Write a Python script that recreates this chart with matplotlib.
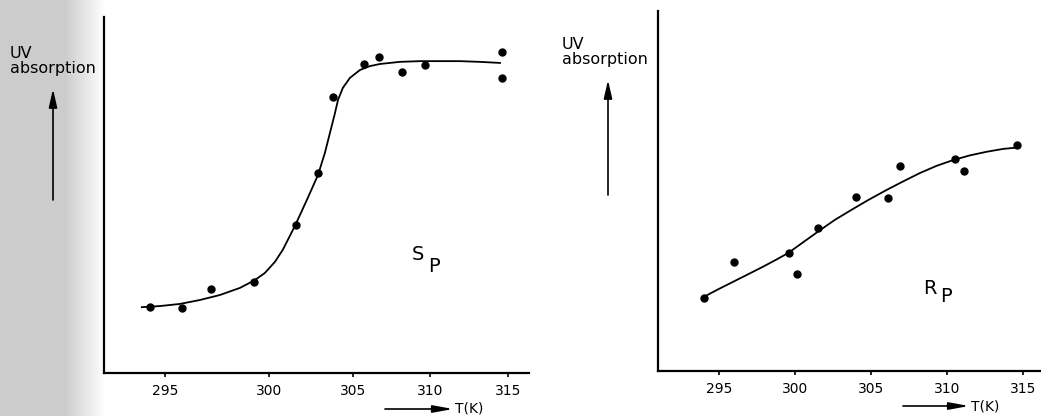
"""
UV absorption vs temperature for S_P and R_P (two panels, scanned-figure look)
"""

import numpy as np
import matplotlib.pyplot as plt

# S_P measured points (T in K, absorption in arbitrary units 0-100)
sp_temp = [294.3, 295.8, 297.2, 299.3, 301.6, 302.9, 303.8, 305.7, 306.7, 308.2, 309.7, 314.6, 314.6]
sp_abs = [18.5, 18.3, 23.6, 25.6, 41.6, 56.2, 77.5, 86.8, 88.8, 84.6, 86.5, 90.2, 82.9]

# S_P drawn curve
sp_fit_temp = [293.89, 294.76, 295.72, 296.68, 297.64, 298.61, 299.33, 299.81, 300.36,
               300.83, 301.55, 302.26, 302.92, 303.33, 303.63, 303.93, 304.11, 304.40,
               304.82, 305.45, 306.10, 306.75, 308.05, 309.35, 310.19, 311.92, 313.20, 314.49]
sp_fit_abs = [18.5, 18.8, 19.4, 20.5, 21.9, 23.9, 26.1, 28.1, 31.2,
              34.6, 41.3, 48.6, 55.6, 61.8, 67.4, 73.0, 76.7, 80.1,
              82.9, 85.1, 86.2, 86.8, 87.4, 87.6, 87.6, 87.6, 87.4, 87.1]

# R_P measured points
rp_temp = [294.0, 296.0, 299.6, 300.1, 301.5, 304.0, 306.1, 306.9, 310.5, 311.1, 314.6]
rp_abs = [20.2, 30.2, 32.8, 27.0, 39.6, 48.3, 48.1, 57.0, 58.9, 55.6, 62.8]

# R_P drawn curve
rp_fit_temp = [294.01, 294.95, 295.94, 296.93, 297.91, 298.80, 299.56, 300.55, 301.64,
               302.63, 303.73, 304.82, 306.03, 307.13, 308.22, 309.32, 310.41, 311.51,
               312.61, 313.70, 314.69]
rp_fit_abs = [20.6, 22.7, 24.8, 26.9, 29.0, 31.0, 32.8, 35.8, 39.1,
              42.0, 44.8, 47.5, 50.3, 52.7, 55.0, 57.0, 58.6, 59.9,
              60.9, 61.7, 62.1]

tick_temps = [295, 300, 305, 310, 315]

W, H = 1041, 416


def fx(x):
    return x / W


def fy(y):
    return 1 - y / H


# the left panel's temperature axis is drawn unevenly in the original
warp_temp = [295, 300, 305, 310, 315]
warp_pos = [0.1435, 0.388, 0.586, 0.767, 0.9506]


def piecewise(v, xp, fp):
    v = np.asarray(v, float)
    flat = np.atleast_1d(v).ravel()
    out = np.interp(flat, xp, fp)
    s0 = (fp[1] - fp[0]) / (xp[1] - xp[0])
    s1 = (fp[-1] - fp[-2]) / (xp[-1] - xp[-2])
    out = np.where(flat < xp[0], fp[0] + (flat - xp[0]) * s0, out)
    out = np.where(flat > xp[-1], fp[-1] + (flat - xp[-1]) * s1, out)
    return out.reshape(v.shape)


def fwd(t):
    return piecewise(t, warp_temp, warp_pos)


def inv(p):
    return piecewise(p, warp_pos, warp_temp)


plt.rcParams['font.family'] = ['DejaVu Sans']

fig = plt.figure(figsize=(W / 100, H / 100), dpi=100)

# grey scanner strip on the far left
bg = fig.add_axes([0, 0, 106 / W, 1], zorder=-5)
cols = np.linspace(0, 1, 106)
shade = np.where(cols < 0.62, 0.80, 0.80 + (cols - 0.62) / 0.38 * 0.20)
bg.imshow(np.tile(shade, (10, 1)), cmap='gray', vmin=0, vmax=1, aspect='auto', extent=[0, 1, 0, 1])
bg.axis('off')

ax1 = fig.add_axes([fx(104), 1 - 373 / H, 425 / W, 356 / H])
ax2 = fig.add_axes([fx(658), 1 - 371 / H, 383 / W, 360 / H])

ax1.set_xscale('function', functions=(fwd, inv))
ax1.set_xlim(292.07, 316.35)
ax2.set_xlim(290.99, 316.18)

for ax in (ax1, ax2):
    ax.set_ylim(0, 100)
    ax.set_xticks(tick_temps)
    ax.set_xticklabels([str(t) for t in tick_temps])
    ax.set_yticks([])
    ax.spines['top'].set_visible(False)
    ax.spines['right'].set_visible(False)
    ax.spines['left'].set_linewidth(1.6)
    ax.spines['bottom'].set_linewidth(1.6)
    ax.tick_params(axis='x', direction='out', length=3, width=1.2, pad=5, labelsize=10)
    ax.patch.set_alpha(0)

ax1.plot(sp_fit_temp, sp_fit_abs, color='black', lw=1.3)
ax1.plot(sp_temp, sp_abs, 'o', color='black', ms=5)

ax2.plot(rp_fit_temp, rp_fit_abs, color='black', lw=1.3)
ax2.plot(rp_temp, rp_abs, 'o', color='black', ms=5)

# panel names
fig.text(fx(418), fy(255), "S", fontsize=14, ha='center', va='center')
fig.text(fx(434), fy(266), "P", fontsize=14, ha='center', va='center')
fig.text(fx(930), fy(288), "R", fontsize=14, ha='center', va='center')
fig.text(fx(946), fy(296), "P", fontsize=14, ha='center', va='center')

# y labels with upward arrows
fig.text(fx(10), fy(46), "UV\nabsorption", fontsize=11.5, ha='left', va='top', linespacing=1.0)
fig.text(fx(562), fy(37), "UV\nabsorption", fontsize=11.5, ha='left', va='top', linespacing=1.0)

up = dict(arrowstyle='-|>,head_length=1.1,head_width=0.25', color='black', lw=1.2,
          shrinkA=0, shrinkB=0)
ax1.annotate('', xy=(fx(53), fy(89)), xytext=(fx(53), fy(200)),
             xycoords='figure fraction', textcoords='figure fraction',
             arrowprops=up, annotation_clip=False)
ax2.annotate('', xy=(fx(608), fy(80)), xytext=(fx(608), fy(195)),
             xycoords='figure fraction', textcoords='figure fraction',
             arrowprops=up, annotation_clip=False)

# x labels with rightward arrows
right = dict(arrowstyle='-|>,head_length=1.2,head_width=0.22', color='black', lw=1.2,
             shrinkA=0, shrinkB=0)
ax1.annotate('', xy=(fx(453), fy(409)), xytext=(fx(385), fy(409)),
             xycoords='figure fraction', textcoords='figure fraction',
             arrowprops=right, annotation_clip=False)
fig.text(fx(455), fy(409), "T(K)", fontsize=10, ha='left', va='center')
ax2.annotate('', xy=(fx(969), fy(406)), xytext=(fx(903), fy(406)),
             xycoords='figure fraction', textcoords='figure fraction',
             arrowprops=right, annotation_clip=False)
fig.text(fx(971), fy(406), "T(K)", fontsize=10, ha='left', va='center')

plt.savefig("out.png", dpi=100)
